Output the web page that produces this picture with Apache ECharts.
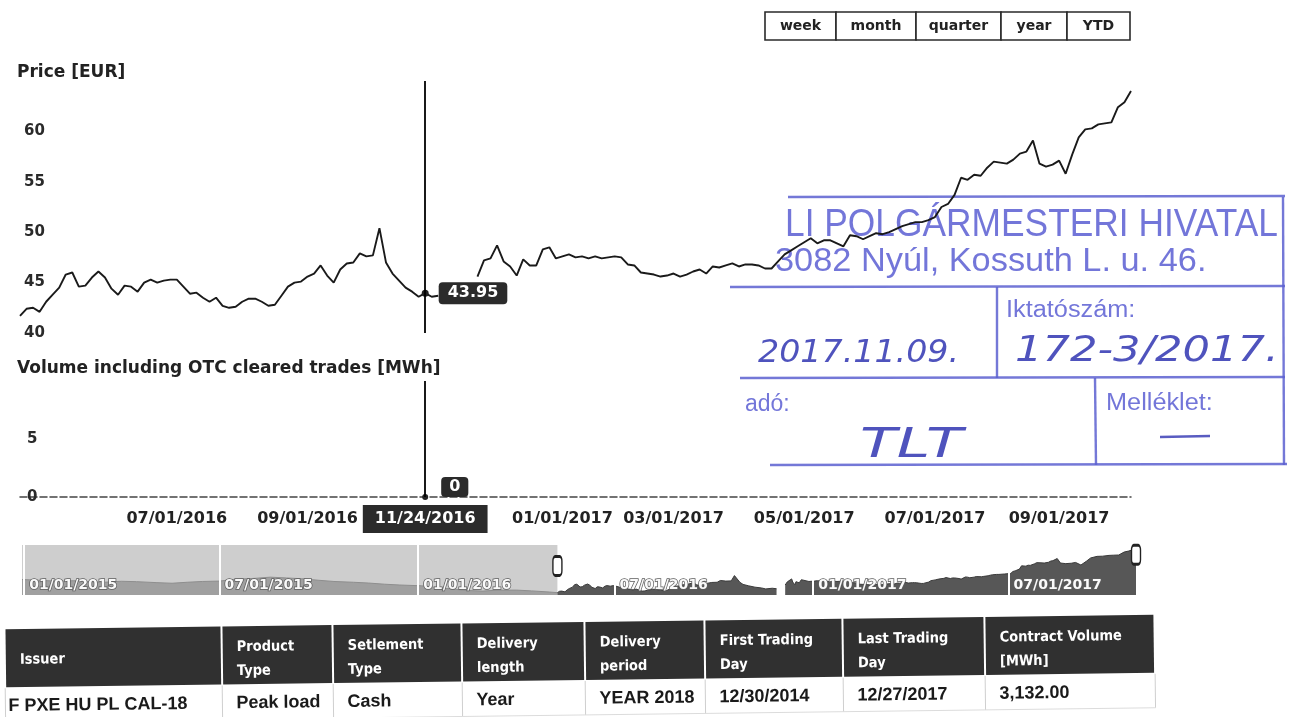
<!DOCTYPE html>
<html><head><meta charset="utf-8">
<script src="https://cdn.jsdelivr.net/npm/echarts/dist/echarts.min.js"></script>
<style>html,body{margin:0;padding:0;background:#fff}#main{width:1293px;height:717px}</style>
</head><body><div id="main"></div>
<script>
// ---------------- DATA ----------------
const categories = [
'2016-05-09','2016-05-11','2016-05-13','2016-05-16','2016-05-18','2016-05-20','2016-05-23','2016-05-25','2016-05-27','2016-05-30',
'2016-06-01','2016-06-03','2016-06-06','2016-06-08','2016-06-10','2016-06-13','2016-06-15','2016-06-17','2016-06-20','2016-06-22',
'2016-06-24','2016-06-27','2016-06-28','2016-06-30','2016-07-01','2016-07-05','2016-07-08','2016-07-11','2016-07-14','2016-07-18',
'2016-07-21','2016-07-25','2016-07-27','2016-07-29','2016-08-02','2016-08-05','2016-08-08','2016-08-11','2016-08-15','2016-08-18',
'2016-08-22','2016-08-24','2016-08-26','2016-08-30','2016-09-01','2016-09-06','2016-09-12','2016-09-15','2016-09-20','2016-09-23',
'2016-09-29','2016-10-04','2016-10-07','2016-10-12','2016-10-17','2016-10-20','2016-10-25','2016-10-28','2016-11-02','2016-11-08',
'2016-11-14','2016-11-18','2016-11-24','2016-11-25','2016-11-28','2016-11-29','2016-11-30','2016-12-01','2016-12-02','2016-12-05',
'2016-12-06','2016-12-08','2016-12-09','2016-12-12','2016-12-13','2016-12-14','2016-12-15','2016-12-16','2016-12-19','2016-12-20',
'2016-12-21','2016-12-22','2016-12-28','2017-01-02','2017-01-05','2017-01-09','2017-01-12','2017-01-16','2017-01-19','2017-01-23',
'2017-01-26','2017-01-30','2017-02-02','2017-02-06','2017-02-09','2017-02-13','2017-02-16','2017-02-20','2017-02-23','2017-02-27',
'2017-03-01','2017-03-03','2017-03-07','2017-03-10','2017-03-13','2017-03-16','2017-03-20','2017-03-22','2017-03-24','2017-03-28',
'2017-03-30','2017-04-03','2017-04-05','2017-04-07','2017-04-11','2017-04-13','2017-04-18','2017-04-20','2017-04-24','2017-04-27',
'2017-05-02','2017-05-04','2017-05-08','2017-05-10','2017-05-12','2017-05-16','2017-05-18','2017-05-22','2017-05-24','2017-05-26',
'2017-05-30','2017-06-01','2017-06-06','2017-06-08','2017-06-12','2017-06-14','2017-06-16','2017-06-20','2017-06-22','2017-06-27',
'2017-07-03','2017-07-05','2017-07-07','2017-07-11','2017-07-13','2017-07-17','2017-07-19','2017-07-21','2017-07-25','2017-07-27',
'2017-07-31','2017-08-03','2017-08-07','2017-08-09','2017-08-11','2017-08-15','2017-08-18','2017-08-23','2017-08-28','2017-09-01',
'2017-09-06','2017-09-11','2017-09-15','2017-09-21','2017-09-26','2017-10-02','2017-10-06','2017-10-11','2017-10-16','2017-10-20',
'2017-10-27'];

const priceValues = [
41.7,42.4,42.5,42.1,43.1,43.8,44.5,45.8,46.0,44.6,
44.7,45.5,46.1,45.5,44.4,43.8,44.7,44.6,44.1,45.0,
45.3,45.0,45.2,45.3,45.3,44.6,43.9,44.0,43.5,43.1,
43.5,42.7,42.5,42.6,43.1,43.4,43.4,43.1,42.7,42.8,
43.7,44.6,45.0,45.1,45.6,45.9,46.7,45.7,45.0,46.3,
46.9,47.0,47.9,47.6,47.7,50.4,47.0,45.9,45.2,44.5,
44.1,43.6,43.95,43.6,43.7,null,null,null,null,null,
45.6,47.2,47.4,48.7,47.1,46.6,45.7,47.3,46.7,46.7,
48.3,48.5,47.4,47.6,47.8,47.5,47.6,47.4,47.6,47.4,
47.5,47.6,47.5,46.8,46.7,46.0,45.9,45.8,45.6,45.7,
45.9,45.6,45.8,46.1,46.3,45.9,46.6,46.5,46.7,46.9,
46.6,46.8,46.8,46.7,46.4,46.4,47.1,47.8,48.2,48.6,
49.0,49.4,48.9,49.2,49.2,48.9,48.6,49.7,49.6,49.3,
49.6,49.9,49.8,50.0,50.3,50.6,50.8,51.0,51.0,51.2,
51.5,52.5,52.8,53.7,55.4,55.2,55.7,55.6,56.4,57.0,
56.9,56.8,57.2,57.8,58.0,59.1,56.8,56.5,56.7,57.1,
55.8,57.7,59.4,60.2,60.3,60.7,60.8,60.9,62.4,62.9,
64.0];

const volumeValues = [
0,0,0,0,0,0,0,0,0,0, 0,0,0,0,0,0,0,0,0,0, 0,0,0,0,0,0,0,0,0,0, 0,0,0,0,0,0,0,0,0,0,
0,0,0,0,0,0,0,0,0,0, 0,0,0,0,0,0,0,0,0,0, 0,0,0,0,0,0,0,0,0,0, 0,0,0,0,0,0,0,0,0,0,
0,0,0,0,0,0,0,0,0,0, 0,0,0,0,0,0,0,0,0,0, 0,0,0,0,0,0,0,0,0,0, 0,0,0,0,0,0,0,0,0,0,
0,0,0,0,0,0,0,0,0,0, 0,0,0,0,0,0,0,0,0,0, 0,0,0,0,0,0,0,0,0,0, 0,0,0,0,0,0,0,0,0,0,
0,0,0,0,0,0,0,0,0,0, 0];

const tickDates  = ['2016-07-01','2016-09-01','2017-01-02','2017-03-01','2017-05-02','2017-07-03','2017-09-01'];
const tickLabels = ['07/01/2016','09/01/2016','01/01/2017','03/01/2017','05/01/2017','07/01/2017','09/01/2017'];

const crossDate = '2016-11-24';
const crossPrice = 43.95;
const crossVolume = 0;

const histDates = ['2014-12-30','2015-01-15','2015-02-02','2015-02-16','2015-03-02','2015-03-16','2015-04-01','2015-04-15',
'2015-05-04','2015-05-18','2015-06-01','2015-06-15','2015-07-01','2015-07-15','2015-08-03','2015-08-17','2015-09-01',
'2015-09-15','2015-10-01','2015-10-15','2015-11-02','2015-11-16','2015-12-01','2015-12-15','2016-01-04','2016-01-15',
'2016-02-01','2016-02-15','2016-03-01','2016-03-15','2016-04-01','2016-04-15','2016-05-02'];
const histValues = [48.4,48.0,47.5,47.8,47.2,47.0,47.5,47.3,46.8,46.5,47.0,47.4,47.6,48.5,49.0,49.6,49.2,48.8,48.0,47.4,
47.0,46.6,46.0,45.6,45.2,44.5,43.6,42.8,42.5,43.0,43.0,42.6,42.0];

const navTickDates  = ['2015-01-01','2015-07-01','2016-01-01','2016-07-01','2017-01-01','2017-07-01'];
const navTickLabels = ['01/01/2015','07/01/2015','01/01/2016','07/01/2016','01/01/2017','07/01/2017'];

const rangeButtons = ['week','month','quarter','year','YTD'];
const tableHeaders = [['Issuer'],['Product','Type'],['Setlement','Type'],['Delivery','length'],['Delivery','period'],
  ['First Trading','Day'],['Last Trading','Day'],['Contract Volume','[MWh]']];
const tableRow = ['F PXE HU PL CAL-18','Peak load','Cash','Year','YEAR 2018','12/30/2014','12/27/2017','3,132.00'];

const stampPrinted = ['LI POLGÁRMESTERI HIVATAL','3082 Nyúl, Kossuth L. u. 46.','Iktatószám:','adó:','Melléklet:'];
const stampHandwritten = ['2017.11.09.','172-3/2017.','TLT'];

// ---------------- CHART ----------------
const FONT = '"DejaVu Sans", Verdana, sans-serif';
const fmtDate = d => { const p = d.split('-'); return p[1] + '/' + p[2] + '/' + p[0]; };
const crossIndex = categories.indexOf(crossDate);
const toTs = d => Date.UTC(+d.slice(0, 4), +d.slice(5, 7) - 1, +d.slice(8, 10));
const navTickTs = navTickDates.map(toTs);

const navHist = histDates.map((d, i) => [toTs(d), histValues[i]]).concat([[toTs(categories[0]), priceValues[0]]]);
const navMain = categories.map((d, i) => [toTs(d), priceValues[i]]);

// graphics: buttons, table, stamp
const graphics = [];
const btnEdges = [765, 836, 916, 1001, 1067, 1130];
rangeButtons.forEach((b, i) => {
  const x0 = btnEdges[i], x1 = btnEdges[i + 1];
  graphics.push({type: 'rect', z: 10, shape: {x: x0, y: 12, width: x1 - x0, height: 28},
    style: {fill: '#fff', stroke: '#2a2a2a', lineWidth: 1.6}});
  graphics.push({type: 'text', z: 11, x: (x0 + x1) / 2, y: 26,
    style: {text: b, fill: '#222', font: 'bold 14px ' + FONT, textAlign: 'center', textVerticalAlign: 'middle', align: 'center', verticalAlign: 'middle'}});
});

const colEdges = [5, 222, 333, 462, 585, 705, 843, 985, 1155];
const tableChildren = [];
tableHeaders.forEach((h, i) => {
  const x0 = colEdges[i], x1 = colEdges[i + 1];
  tableChildren.push({type: 'rect', shape: {x: x0 + 1, y: 622, width: x1 - x0 - 2, height: 58}, style: {fill: '#303030'}});
  const ys = h.length === 1 ? [653] : [643, 667];
  h.forEach((line, k) => tableChildren.push({type: 'text', x: x0 + 15, y: ys[k],
    style: {text: line, fill: '#fff', font: 'bold 14.5px "DejaVu Sans Condensed", ' + FONT, textVerticalAlign: 'middle', verticalAlign: 'middle'}}));
  tableChildren.push({type: 'line', shape: {x1: x0, y1: 681, x2: x0, y2: 715}, style: {stroke: '#cfcfcf', lineWidth: 1}});
  tableChildren.push({type: 'text', x: i === 0 ? 8 : x0 + 14, y: 699,
    style: {text: tableRow[i], fill: '#1a1a1a', font: 'bold 18px "Liberation Sans", Arial, sans-serif', textVerticalAlign: 'middle', verticalAlign: 'middle'}});
});
tableChildren.push({type: 'line', shape: {x1: 1155, y1: 681, x2: 1155, y2: 715}, style: {stroke: '#cfcfcf', lineWidth: 1}});
tableChildren.push({type: 'line', shape: {x1: 5, y1: 715, x2: 1155, y2: 715}, style: {stroke: '#dcdcdc', lineWidth: 1}});
graphics.push({type: 'group', z: 5, rotation: 0.0125, originX: 580, originY: 668, children: tableChildren});

const stampBlue = '#5c60d0', inkBlue = '#3c40b6';
const stampLines = [[788,197,1285,196],[730,287,1285,286],[740,378,1285,377],[770,465,1287,464],
  [1283,197,1284,465],[997,287,997,378],[1095,378,1096,465],[1160,437,1210,436]];
const stampChildren = stampLines.map((l, i) => ({type: 'line', shape: {x1: l[0], y1: l[1], x2: l[2], y2: l[3]},
  style: {stroke: i === 7 ? inkBlue : stampBlue, lineWidth: i === 7 ? 2.5 : 2.4, opacity: 0.85}}));
const printedPos = [[785,226,38,0.93],[775,262,34,1.01],[1006,311,23,1.1],[745,405,23,1],[1106,404,23,1.1]];
stampPrinted.forEach((t, i) => {
  const p = printedPos[i];
  stampChildren.push({type: 'text', x: p[0], y: p[1], scaleX: p[3],
    style: {text: t, fill: '#5a5ed2', opacity: 0.85, font: p[2] + 'px "Liberation Sans", Arial, sans-serif', textVerticalAlign: 'middle', verticalAlign: 'middle'}});
});
const handPos = [[758,354,32,1.04],[1015,352,36,1.2],[860,447,40,1.5]];
stampHandwritten.forEach((t, i) => {
  const p = handPos[i];
  stampChildren.push({type: 'text', x: p[0], y: p[1], scaleX: p[3],
    style: {text: t, fill: inkBlue, opacity: 0.9, font: 'italic ' + p[2] + 'px "DejaVu Sans", sans-serif', textVerticalAlign: 'middle', verticalAlign: 'middle'}});
});
graphics.push({type: 'group', z: 60, children: stampChildren});

const darkLabel = {color: '#fff', backgroundColor: '#2b2b2b', borderRadius: 4, fontWeight: 'bold', fontSize: 16, fontFamily: FONT};

const option = {
  animation: false,
  backgroundColor: '#fff',
  textStyle: {fontFamily: FONT},
  axisPointer: {triggerOn: 'none'},
  title: [
    {text: 'Price [EUR]', left: 17, top: 64, padding: 0, textStyle: {fontSize: 17, fontWeight: 'bold', color: '#222', fontFamily: FONT}},
    {text: 'Volume including OTC cleared trades [MWh]', left: 17, top: 360, padding: 0, textStyle: {fontSize: 17, fontWeight: 'bold', color: '#222', fontFamily: FONT}}
  ],
  grid: [
    {left: 20, right: 162, top: 81, height: 252},
    {left: 20, right: 162, top: 381, height: 116},
    {left: 22, right: 157, top: 545, height: 50}
  ],
  xAxis: [
    {type: 'category', gridIndex: 0, data: categories, boundaryGap: false,
     axisLine: {show: false}, axisTick: {show: false}, axisLabel: {show: false}, splitLine: {show: false},
     axisPointer: {show: true, status: 'show', value: crossIndex, type: 'line', snap: false,
       lineStyle: {color: '#000', width: 1.8, type: 'solid'}, label: {show: false}}},
    {type: 'category', gridIndex: 1, data: categories, boundaryGap: false,
     axisLine: {show: true, lineStyle: {color: '#444', width: 1.5, type: [7, 3]}},
     axisTick: {show: false}, splitLine: {show: false},
     axisLabel: {interval: (i, v) => tickDates.includes(v), formatter: v => tickLabels[tickDates.indexOf(v)],
       fontWeight: 'bold', fontSize: 16, color: '#222', margin: 14},
     axisPointer: {show: true, status: 'show', value: crossIndex, type: 'line', snap: false,
       lineStyle: {color: '#000', width: 1.8, type: 'solid'},
       label: Object.assign({show: true, padding: [6, 12], margin: 8,
         formatter: p => fmtDate(typeof p.value === 'number' ? categories[p.value] : p.value)}, darkLabel, {borderRadius: 0})}},
    {type: 'value', gridIndex: 2, z: 10, min: toTs(histDates[0]), max: toTs(categories[categories.length - 1]),
     axisLine: {show: false}, axisTick: {show: false}, splitLine: {show: false},
     axisLabel: {inside: true, customValues: navTickTs, align: 'left', margin: 3, padding: [0, 0, 0, 5],
       formatter: v => { const i = navTickTs.indexOf(v); return i >= 0 ? navTickLabels[i] : ''; },
       color: '#fafafa', fontWeight: 'bold', fontSize: 14, textBorderColor: '#5e5e5e', textBorderWidth: 1.5}}
  ],
  yAxis: [
    {type: 'value', gridIndex: 0, min: 40, max: 65, interval: 5, splitLine: {show: false},
     axisLine: {show: false}, axisTick: {show: false},
     axisLabel: {inside: true, showMaxLabel: false, margin: 4, fontWeight: 'bold', fontSize: 15, color: '#2a2a2a'}},
    {type: 'value', gridIndex: 1, min: 0, max: 10, interval: 5, splitLine: {show: false},
     axisLine: {show: false}, axisTick: {show: false},
     axisLabel: {inside: true, showMaxLabel: false, margin: 7, fontWeight: 'bold', fontSize: 15, color: '#2a2a2a'}},
    {type: 'value', gridIndex: 2, min: 40.5, max: 66, show: false}
  ],
  series: [
    {name: 'Price', type: 'line', xAxisIndex: 0, yAxisIndex: 0, data: priceValues, showSymbol: false, symbol: 'none',
     connectNulls: false, lineStyle: {color: '#1a1a1a', width: 1.9}, z: 3,
     markPoint: {symbol: 'circle', symbolSize: 7, itemStyle: {color: '#222'},
       label: Object.assign({show: true, position: 'right', distance: 10, padding: [3, 9], formatter: crossPrice.toFixed(2)}, darkLabel),
       data: [{coord: [crossDate, crossPrice]}]}},
    {name: 'Volume', type: 'bar', xAxisIndex: 1, yAxisIndex: 1, data: volumeValues, itemStyle: {color: '#333'},
     markPoint: {symbol: 'circle', symbolSize: 6, itemStyle: {color: '#222'},
       label: Object.assign({show: true, position: 'right', distance: 13, offset: [0, -10], padding: [2, 8], formatter: String(crossVolume)}, darkLabel),
       data: [{coord: [crossDate, crossVolume]}]}},
    {name: 'NavHistory', type: 'line', xAxisIndex: 2, yAxisIndex: 2, data: navHist, showSymbol: false, symbol: 'none',
     lineStyle: {color: '#8e8e8e', width: 1}, areaStyle: {color: '#a0a0a0', opacity: 1, origin: 'start'}, silent: true,
     markArea: {silent: true, itemStyle: {color: 'rgba(165,165,165,0.55)'}, data: [[{xAxis: toTs(histDates[0])}, {xAxis: toTs(categories[0])}]]}},
    {name: 'NavMain', type: 'line', xAxisIndex: 2, yAxisIndex: 2, data: navMain, showSymbol: false, symbol: 'none',
     connectNulls: false, lineStyle: {color: '#3a3a3a', width: 1}, areaStyle: {color: '#575757', opacity: 1, origin: 'start'}, silent: true,
     markLine: {silent: true, symbol: 'none', label: {show: false}, lineStyle: {color: '#fff', width: 2, type: 'solid'},
       data: navTickTs.map(t => ({xAxis: t}))},
     markPoint: {symbol: 'roundRect', symbolSize: [9, 19], itemStyle: {color: '#fff', borderColor: '#222', borderWidth: 2},
       label: {show: false}, data: [{coord: [toTs(categories[0]), 55.3]}, {coord: [toTs(categories[categories.length - 1]), 61]}]}}
  ],
  graphic: graphics
};

const chart = echarts.init(document.getElementById('main'));
chart.setOption(option);
</script></body></html>
